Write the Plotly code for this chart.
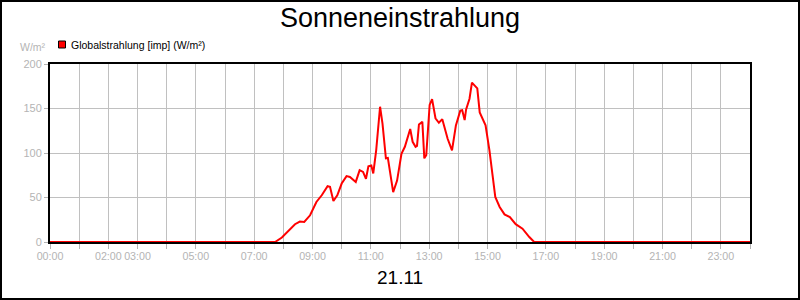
import plotly.graph_objects as go

# ---- data ----
times = ["00:00", "07:43", "07:57", "08:07", "08:24", "08:34", "08:43", "08:55",
         "09:08", "09:19", "09:31", "09:36", "09:43", "09:51", "10:00", "10:10",
         "10:17", "10:29", "10:37", "10:44", "10:50", "10:55", "11:01", "11:05",
         "11:11", "11:19", "11:24", "11:31", "11:35", "11:46", "11:54", "12:03",
         "12:10", "12:21", "12:26", "12:32", "12:35", "12:39", "12:46", "12:50",
         "12:54", "13:01", "13:06", "13:13", "13:20", "13:27", "13:38", "13:47",
         "13:55", "14:04", "14:08", "14:13", "14:16", "14:23", "14:28", "14:39",
         "14:44", "14:56", "15:04", "15:16", "15:25", "15:35", "15:46", "15:58",
         "16:12", "16:26", "16:36", "24:00"]
values = [0, 0, 5, 11, 20, 23, 22.5, 30,
          45, 52.5, 62.7, 62, 46, 52.5, 65.7, 74,
          73, 67.5, 80.7, 78.8, 71, 85, 86, 77,
          103, 152, 133, 94, 94.5, 56, 69, 99,
          107, 127, 112.6, 107, 108, 132, 135, 94,
          97.5, 154, 160.6, 139, 134, 138, 116, 103,
          131, 147.5, 148, 137, 149, 161, 179, 172.6,
          145.6, 131, 103, 50.7, 39.4, 31, 28, 20,
          15, 5.6, 0, 0]
tick_hours = list(range(0, 25))
tick_labels = ["00:00", "", "02:00", "03:00", "", "05:00", "", "07:00", "", "09:00",
               "", "11:00", "", "13:00", "", "15:00", "", "17:00", "", "19:00",
               "", "21:00", "", "23:00", ""]
y_ticks = [0, 50, 100, 150, 200]
series_name = "Globalstrahlung [imp] (W/m²)"
title_text = "Sonneneinstrahlung"
date_text = "21.11"
unit_text = "W/m²"

def to_hours(s):
    h, m = s.split(":")
    return int(h) + int(m) / 60.0

x = [to_hours(t) for t in times]

# layout geometry (pixels)
W, H = 800, 300
L, R, T, B = 50, 50, 64, 58
PW, PH = W - L - R, H - T - B

def px(xp):
    return (xp - L) / PW

def py(yp):
    return (H - B - yp) / PH

GRAY = "#b4b4b4"
GRID = "#c0c0c0"
FONT = "Liberation Sans, Arial, sans-serif"

fig = go.Figure()
fig.add_trace(go.Scatter(x=x, y=values, mode="lines", name=series_name,
                         line=dict(color="#ff0000", width=2), showlegend=False,
                         hoverinfo="skip"))

fig.update_layout(
    width=W, height=H,
    margin=dict(l=L, r=R, t=T, b=B, pad=0),
    paper_bgcolor="white", plot_bgcolor="white",
    font=dict(family=FONT, size=11, color=GRAY),
    title=dict(text=title_text, x=0.5, xanchor="center", y=1 - 18 / H,
               yanchor="middle", yref="container",
               font=dict(family=FONT, size=27, color="black")),
    xaxis=dict(range=[0, 24], tickmode="array", tickvals=tick_hours,
               ticktext=tick_labels, tickangle=0, showgrid=True, gridcolor=GRID,
               gridwidth=1, ticks="outside", ticklen=5, tickcolor=GRAY, tickwidth=1,
               ticklabelstandoff=-2,
               showline=True, linecolor="black", linewidth=2, mirror=True,
               zeroline=False, tickfont=dict(family=FONT, size=10.7, color=GRAY)),
    yaxis=dict(range=[0, 200], tickmode="array", tickvals=y_ticks,
               showgrid=True, gridcolor=GRID, gridwidth=1,
               ticks="outside", ticklen=4, tickcolor=GRAY, tickwidth=1,
               showline=True, linecolor="black", linewidth=2, mirror=True,
               zeroline=False, tickfont=dict(family=FONT, size=11, color=GRAY)),
    showlegend=False,
)

# outer frame
fig.add_shape(type="rect", xref="paper", yref="paper",
              x0=px(1), x1=px(W - 1), y0=py(H - 1), y1=py(1),
              line=dict(color="black", width=2), fillcolor="rgba(0,0,0,0)",
              layer="above")
# legend square
fig.add_shape(type="rect", xref="paper", yref="paper",
              x0=px(58.5), x1=px(65.5), y0=py(48), y1=py(41),
              line=dict(color="black", width=1), fillcolor="#ff0000")

fig.add_annotation(text=series_name, xref="paper", yref="paper",
                   x=px(69), y=py(44.5), xanchor="left", yanchor="middle",
                   showarrow=False, font=dict(family=FONT, size=10.5, color="black"))
fig.add_annotation(text=unit_text, xref="paper", yref="paper",
                   x=px(48), y=py(47), xanchor="right", yanchor="middle",
                   showarrow=False, font=dict(family=FONT, size=10.5, color=GRAY))
fig.add_annotation(text=date_text, xref="paper", yref="paper",
                   x=0.5, y=py(277), xanchor="center", yanchor="middle",
                   showarrow=False, font=dict(family=FONT, size=19, color="black"))

fig.write_html("out.html")
